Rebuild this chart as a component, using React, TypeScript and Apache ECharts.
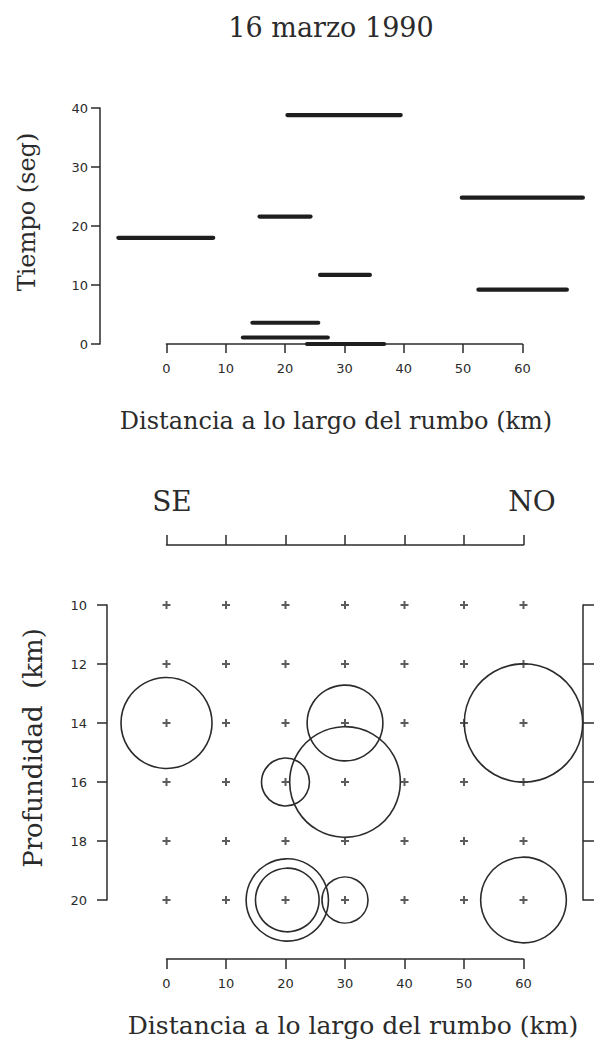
import React, { useEffect, useRef } from "react";
import * as echarts from "echarts";

const titleText = "16 marzo 1990";
const timeAxisName = "Tiempo (seg)";
const depthAxisName = "Profundidad  (km)";
const distAxisName = "Distancia a lo largo del rumbo (km)";
const leftDir = "SE";
const rightDir = "NO";

const distTicks = [0, 10, 20, 30, 40, 50, 60];
const timeTicks = [0, 10, 20, 30, 40];
const depthTicks = [10, 12, 14, 16, 18, 20];

// rupture segments (top panel): start km, end km, time s
const segStart = [-8.1, 20.4, 15.7, 25.9, 49.8, 52.6, 14.5, 12.9, 23.7];
const segEnd = [7.9, 39.5, 24.3, 34.3, 70.2, 67.5, 25.6, 27.2, 36.7];
const segTime = [18.0, 38.8, 21.6, 11.7, 24.8, 9.2, 3.6, 1.1, 0.0];

// grid nodes (bottom panel)
const nodeDist = [0, 10, 20, 30, 40, 50, 60];
const nodeDepth = [10, 12, 14, 16, 18, 20];

// circles: centre distance km, centre depth km, radius km
const circDist = [0, 30, 60, 20, 30, 20.3, 20.3, 30, 60];
const circDepth = [14, 14, 14, 16, 16, 20, 20, 20, 20];
const circRadius = [7.65, 6.37, 9.95, 4.03, 9.3, 6.92, 5.35, 3.87, 7.2];

const INK = "#2b2b2b";
const SERIF = "'DejaVu Serif', serif";
const SANS = "'DejaVu Sans', sans-serif";

export default function App() {
  const ref = useRef<HTMLDivElement>(null);
  useEffect(() => {
    document.body.style.margin = "0";
    const chart = echarts.init(ref.current!, null, { renderer: "svg" });

    const segData = segStart.map((s, i) => [s, segEnd[i], segTime[i]]);
    const nodeData: number[][] = [];
    nodeDepth.forEach((d) => nodeDist.forEach((x) => nodeData.push([x, d])));
    const circData = circDist.map((x, i) => [x, circDepth[i], circRadius[i]]);

    const axisLine = { show: true, onZero: false, lineStyle: { color: INK, width: 1.5 } };
    const axisTick = (len: number) => ({ show: true, inside: false, length: len, lineStyle: { color: INK, width: 1.5 } });
    const tickLabel = (margin: number) => ({ fontFamily: SANS, fontSize: 13, color: INK, margin });
    const fmt = (arr: number[]) => (v: number) => (arr.indexOf(v) >= 0 ? String(v) : "");

    const option: any = {
      animation: false,
      backgroundColor: "#fff",
      grid: [
        { left: 100, top: 108, width: 487.6, height: 236, outerBoundsMode: "none" },
        { left: 166.4, top: 300, width: 356, height: 44, outerBoundsMode: "none" },
        { left: 107, top: 605, width: 476, height: 295, outerBoundsMode: "none" },
        { left: 166.5, top: 920, width: 357, height: 39, outerBoundsMode: "none" },
        { left: 166.5, top: 545, width: 357, height: 40, outerBoundsMode: "none" },
      ],
      xAxis: [
        { gridIndex: 0, type: "value", min: -11.19, max: 71, show: false },
        {
          gridIndex: 1, type: "value", min: 0, max: 60, interval: 10, position: "bottom",
          axisLine, axisTick: axisTick(9), axisLabel: { ...tickLabel(18), formatter: fmt(distTicks) }, splitLine: { show: false },
        },
        { gridIndex: 2, type: "value", min: -10, max: 70, show: false },
        {
          gridIndex: 3, type: "value", min: 0, max: 60, interval: 10, position: "bottom",
          axisLine, axisTick: axisTick(10), axisLabel: { ...tickLabel(18), formatter: fmt(distTicks) }, splitLine: { show: false },
        },
        {
          gridIndex: 4, type: "value", min: 0, max: 60, interval: 10, position: "top",
          axisLine, axisTick: axisTick(10), axisLabel: { show: false }, splitLine: { show: false },
        },
      ],
      yAxis: [
        {
          gridIndex: 0, type: "value", min: 0, max: 40, interval: 10, position: "left",
          axisLine, axisTick: axisTick(9), axisLabel: { ...tickLabel(12), formatter: fmt(timeTicks) }, splitLine: { show: false },
        },
        { gridIndex: 1, type: "value", show: false },
        {
          gridIndex: 2, type: "value", min: 10, max: 20, interval: 2, inverse: true, position: "left",
          axisLine, axisTick: axisTick(10), axisLabel: { ...tickLabel(20), formatter: fmt(depthTicks) }, splitLine: { show: false },
        },
        {
          gridIndex: 2, type: "value", min: 10, max: 20, interval: 2, inverse: true, position: "right",
          axisLine, axisTick: axisTick(11), axisLabel: { show: false }, splitLine: { show: false },
        },
        { gridIndex: 3, type: "value", show: false },
        { gridIndex: 4, type: "value", show: false },
      ],
      series: [
        {
          type: "custom",
          xAxisIndex: 0,
          yAxisIndex: 0,
          clip: false,
          data: segData,
          renderItem: (params: any, api: any) => {
            const a = api.coord([api.value(0), api.value(2)]);
            const b = api.coord([api.value(1), api.value(2)]);
            return {
              type: "line",
              shape: { x1: a[0], y1: a[1], x2: b[0], y2: b[1] },
              style: { stroke: "#1e1e1e", lineWidth: 4.2, lineCap: "round" },
            };
          },
        },
        {
          type: "scatter",
          xAxisIndex: 2,
          yAxisIndex: 2,
          data: nodeData,
          symbol: "path://M3,0L5,0L5,3L8,3L8,5L5,5L5,8L3,8L3,5L0,5L0,3L3,3Z",
          symbolSize: 8,
          itemStyle: { color: "#333" },
          silent: true,
        },
        {
          type: "custom",
          xAxisIndex: 2,
          yAxisIndex: 2,
          clip: false,
          data: circData,
          renderItem: (params: any, api: any) => {
            const c = api.coord([api.value(0), api.value(1)]);
            const r = api.size([api.value(2), 0])[0];
            return {
              type: "circle",
              shape: { cx: c[0], cy: c[1], r },
              style: { fill: "none", stroke: INK, lineWidth: 1.6 },
            };
          },
        },
      ],
      graphic: [
        { type: "text", x: 331, y: 27, style: { text: titleText, font: `27px ${SERIF}`, fill: INK, align: "center", verticalAlign: "middle" } },
        { type: "text", x: 27, y: 212, rotation: Math.PI / 2, style: { text: timeAxisName, font: `24px ${SERIF}`, fill: INK, align: "center", verticalAlign: "middle" } },
        { type: "text", x: 336, y: 421, style: { text: distAxisName, font: `24px ${SERIF}`, fill: INK, align: "center", verticalAlign: "middle" } },
        { type: "text", x: 172, y: 501, style: { text: leftDir, font: `28px ${SERIF}`, fill: INK, align: "center", verticalAlign: "middle" } },
        { type: "text", x: 532, y: 501, style: { text: rightDir, font: `28px ${SERIF}`, fill: INK, align: "center", verticalAlign: "middle" } },
        { type: "text", x: 33, y: 748, rotation: Math.PI / 2, style: { text: depthAxisName, font: `26px ${SERIF}`, fill: INK, align: "center", verticalAlign: "middle" } },
        { type: "text", x: 353, y: 1025, style: { text: distAxisName, font: `25px ${SERIF}`, fill: INK, align: "center", verticalAlign: "middle" } },
      ],
    };
    chart.setOption(option);
    return () => chart.dispose();
  }, []);
  return <div ref={ref} style={{ width: 594, height: 1047 }} />;
}
